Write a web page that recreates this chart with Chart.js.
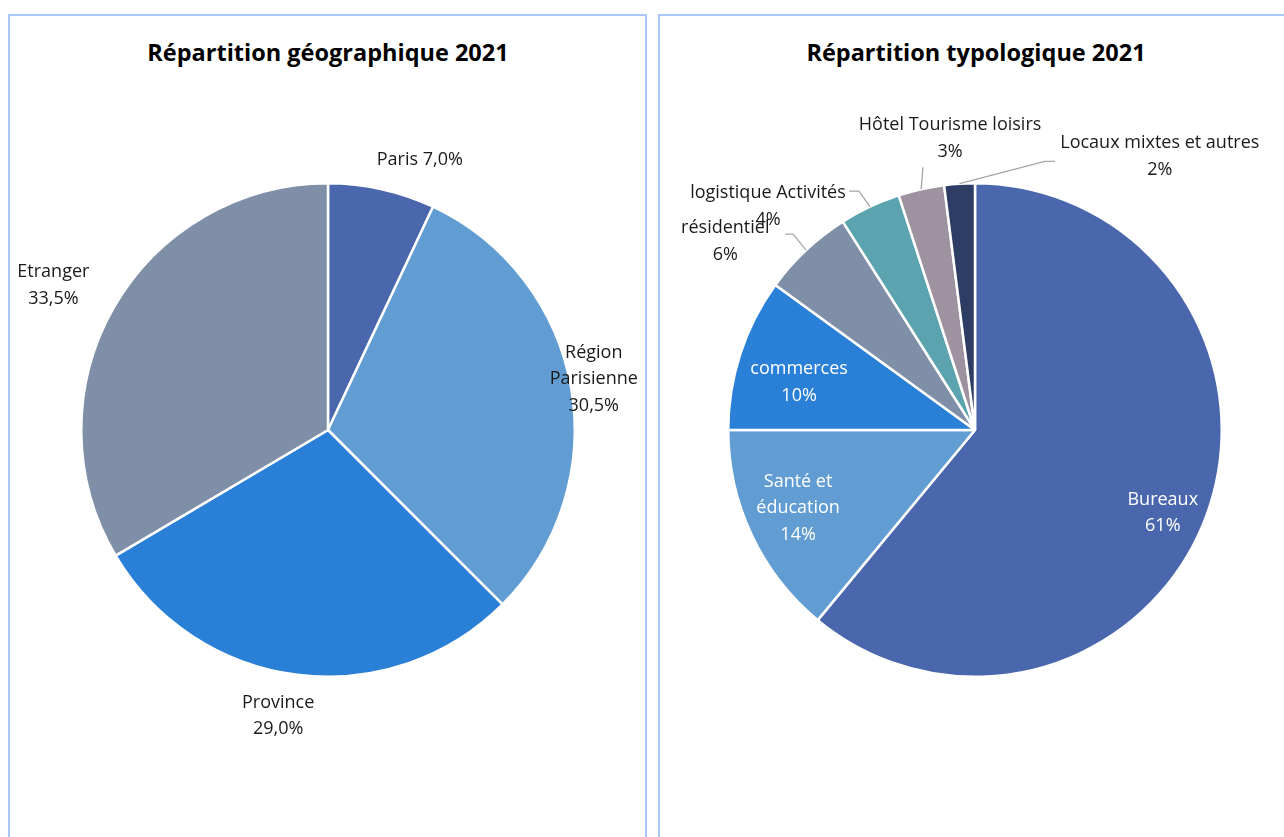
<!DOCTYPE html>
<html lang="fr">
<head>
  <meta charset="UTF-8">
  <title>Répartition 2021</title>
  <script src="https://cdn.jsdelivr.net/npm/chart.js"></script>
  <style>
    body { margin: 0; background: #fff; width: 1284px; height: 837px; overflow: hidden; position: relative; font-family: "Open Sans", sans-serif; }
    .panel { position: absolute; top: 14px; height: 840px; border: 2px solid #aac8f6; box-sizing: border-box; }
    .title { position: absolute; top: 36px; font: bold 23.5px "Open Sans", sans-serif; color: #000; text-align: center; width: 660px; }
    canvas { position: absolute; top: 0; }
  </style>
</head>
<body>
  <div class="panel" style="left:8px; width:639px;"></div>
  <div class="panel" style="left:658px; width:640px;"></div>
  <div class="title" style="left:-2px;">Répartition géographique 2021</div>
  <div class="title" style="left:646px;">Répartition typologique 2021</div>
  <canvas id="geo" style="left:0; width:660px; height:837px;"></canvas>
  <canvas id="typo" style="left:660px; width:624px; height:837px;"></canvas>

  <script>
    // Répartition géographique
    const geoLabels = ['Paris', 'Région Parisienne', 'Province', 'Etranger'];
    const geoValues = [7.0, 30.5, 29.0, 33.5];
    const geoColors = ['#4a67ad', '#619dd2', '#2a7fd6', '#7f8fa8'];

    // Répartition typologique
    const typoLabels = ['Bureaux', 'Santé et éducation', 'commerces', 'résidentiel', 'logistique Activités', 'Hôtel Tourisme loisirs', 'Locaux mixtes et autres'];
    const typoValues = [61, 14, 10, 6, 4, 3, 2];
    const typoColors = ['#4a67ad', '#619dd2', '#2a7fd6', '#7f8fa8', '#5ba3ae', '#9e91a0', '#2d3d63'];

    const fmt1 = v => v.toFixed(1).replace('.', ',') + '%';
    const fmt0 = v => v + '%';

    // label placement in units of the pie radius, relative to the centre
    const geoPlace = [
      { lines: i => [geoLabels[i] + ' ' + fmt1(geoValues[i])], pos: [0.372, -1.093] },
      { lines: i => ['Région', 'Parisienne', fmt1(geoValues[i])], pos: [1.077, -0.206] },
      { lines: i => [geoLabels[i], fmt1(geoValues[i])], pos: [-0.202, 1.158] },
      { lines: i => [geoLabels[i], fmt1(geoValues[i])], pos: [-1.113, -0.587] }
    ];

    const typoPlace = [
      { lines: i => [typoLabels[i], fmt0(typoValues[i])], pos: [0.761, 0.336], color: '#fff' },
      { lines: i => ['Santé et', 'éducation', fmt0(typoValues[i])], pos: [-0.717, 0.316], color: '#fff' },
      { lines: i => [typoLabels[i], fmt0(typoValues[i])], pos: [-0.713, -0.194], color: '#fff' },
      { lines: i => [typoLabels[i], fmt0(typoValues[i])], pos: [-1.012, -0.765], leader: [[-0.769, -0.794], [-0.737, -0.794]] },
      { lines: i => [typoLabels[i], fmt0(typoValues[i])], pos: [-0.839, -0.907], leader: [[-0.510, -0.968], [-0.470, -0.968]] },
      { lines: i => [typoLabels[i], fmt0(typoValues[i])], pos: [-0.101, -1.182], leader: [[-0.211, -1.065]] },
      { lines: i => [typoLabels[i], fmt0(typoValues[i])], pos: [0.749, -1.109], leader: [[0.324, -1.089], [0.283, -1.089]] }
    ];

    const pieLabels = {
      id: 'pieLabels',
      afterDatasetsDraw(chart, args, opts) {
        const ctx = chart.ctx;
        const meta = chart.getDatasetMeta(0);
        ctx.save();
        meta.data.forEach((arc, i) => {
          const p = opts.place[i];
          const { x, y, outerRadius: r, startAngle, endAngle } = arc.getProps(['x', 'y', 'outerRadius', 'startAngle', 'endAngle'], true);
          if (p.leader) {
            const mid = (startAngle + endAngle) / 2;
            ctx.strokeStyle = '#a6a6a6';
            ctx.lineWidth = 1.3;
            ctx.beginPath();
            p.leader.forEach((pt, k) => {
              const px = x + r * pt[0], py = y + r * pt[1];
              if (k === 0) ctx.moveTo(px, py); else ctx.lineTo(px, py);
            });
            ctx.lineTo(x + r * Math.cos(mid), y + r * Math.sin(mid));
            ctx.stroke();
          }
          const lines = p.lines(i);
          const lh = 26.5;
          const cx = x + r * p.pos[0];
          const cy = y + r * p.pos[1] - (lines.length - 1) * lh / 2;
          ctx.fillStyle = p.color || '#1a1a1a';
          ctx.font = '18px "Open Sans", sans-serif';
          ctx.textAlign = 'center';
          ctx.textBaseline = 'middle';
          lines.forEach((t, k) => ctx.fillText(t, cx, cy + k * lh));
        });
        ctx.restore();
      }
    };

    function makePie(id, labels, values, colors, place, padding) {
      return new Chart(document.getElementById(id), {
        type: 'pie',
        data: {
          labels: labels,
          datasets: [{
            data: values,
            backgroundColor: colors,
            borderColor: '#ffffff',
            borderWidth: 2.5
          }]
        },
        options: {
          responsive: false,
          animation: false,
          layout: { padding: padding },
          plugins: {
            legend: { display: false },
            tooltip: { enabled: false },
            pieLabels: { place: place }
          }
        },
        plugins: [pieLabels]
      });
    }

    const geoCanvas = document.getElementById('geo');
    geoCanvas.width = 660; geoCanvas.height = 837;
    const typoCanvas = document.getElementById('typo');
    typoCanvas.width = 624; typoCanvas.height = 837;

    makePie('geo', geoLabels, geoValues, geoColors, geoPlace, { left: 80, right: 84, top: 182, bottom: 159 });
    makePie('typo', typoLabels, typoValues, typoColors, typoPlace, { left: 67, right: 61, top: 182, bottom: 159 });
  </script>
</body>
</html>
